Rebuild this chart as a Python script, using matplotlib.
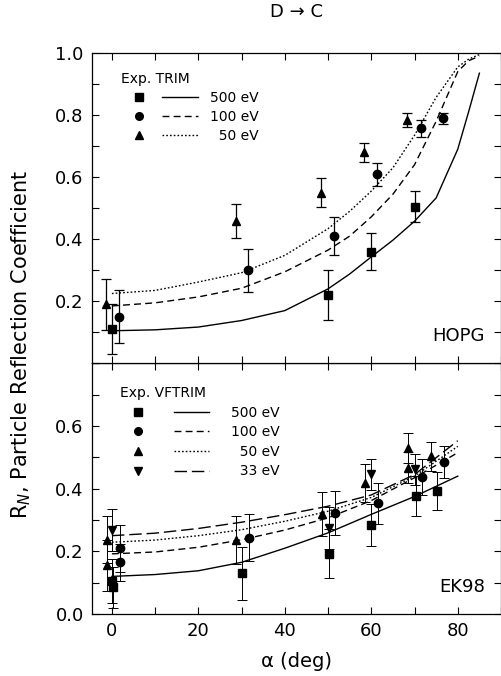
import matplotlib
matplotlib.use("Agg")
import matplotlib.pyplot as plt
from matplotlib.lines import Line2D
from matplotlib.legend_handler import HandlerTuple
from matplotlib.ticker import MultipleLocator, FormatStrFormatter

plt.rcParams['font.family'] = ['DejaVu Sans']

# ---------------- data: top panel (HOPG, TRIM) ----------------
hopg_sq_x = [0, 50, 60, 70]
hopg_sq_y = [0.11, 0.22, 0.36, 0.505]
hopg_sq_e = [0.08, 0.08, 0.06, 0.05]

hopg_ci_x = [1.7, 31.5, 51.4, 61.4, 71.4, 76.6]
hopg_ci_y = [0.15, 0.30, 0.41, 0.61, 0.757, 0.79]
hopg_ci_e = [0.085, 0.07, 0.06, 0.037, 0.027, 0.018]

hopg_tr_x = [-1.4, 28.6, 48.4, 58.3, 68.3]
hopg_tr_y = [0.19, 0.46, 0.55, 0.68, 0.785]
hopg_tr_e = [0.083, 0.055, 0.047, 0.03, 0.023]

trim_x = [0, 10, 20, 30, 40, 50, 55, 60, 65, 70, 75, 80, 82.5, 85]
trim_500 = [0.105, 0.108, 0.117, 0.138, 0.17, 0.24, 0.288, 0.343, 0.397, 0.458, 0.533, 0.69, 0.81, 0.935]
trim_100 = [0.185, 0.195, 0.214, 0.242, 0.295, 0.365, 0.41, 0.472, 0.545, 0.64, 0.78, 0.94, 0.975, 0.99]
trim_50 = [0.225, 0.235, 0.262, 0.292, 0.348, 0.434, 0.49, 0.555, 0.63, 0.735, 0.857, 0.955, 0.98, 0.995]

# ---------------- data: bottom panel (EK98, VFTRIM) ----------------
ek_sq_x = [0.0, 0.3, 30.1, 50.2, 60, 70.3, 75.3]
ek_sq_y = [0.105, 0.085, 0.13, 0.193, 0.285, 0.378, 0.392]
ek_sq_e = [0.07, 0.065, 0.085, 0.078, 0.067, 0.064, 0.061]

ek_ci_x = [1.8, 1.8, 31.7, 51.7, 61.6, 71.8, 76.8]
ek_ci_y = [0.21, 0.165, 0.243, 0.323, 0.353, 0.437, 0.485]
ek_ci_e = [0.075, 0.06, 0.075, 0.07, 0.066, 0.057, 0.051]

ek_tr_x = [-1.2, -1.2, 28.8, 48.6, 58.6, 68.5, 68.5, 73.9]
ek_tr_y = [0.237, 0.155, 0.237, 0.318, 0.419, 0.531, 0.467, 0.504]
ek_tr_e = [0.075, 0.08, 0.077, 0.07, 0.06, 0.048, 0.05, 0.046]

ek_itr_x = [0.1, 50.2, 60, 70]
ek_itr_y = [0.269, 0.275, 0.446, 0.462]
ek_itr_e = [0.067, 0.067, 0.05, 0.05]

vf_x = [0, 10, 20, 30, 40, 50, 60, 70, 80]
vf_500 = [0.12, 0.126, 0.138, 0.165, 0.21, 0.259, 0.318, 0.375, 0.44]
vf_100 = [0.192, 0.198, 0.213, 0.237, 0.268, 0.307, 0.362, 0.435, 0.515]
vf_50 = [0.229, 0.236, 0.25, 0.269, 0.296, 0.328, 0.372, 0.44, 0.535]
vf_33 = [0.25, 0.258, 0.273, 0.293, 0.317, 0.344, 0.38, 0.445, 0.553]

energies_top = ['500 eV', '100 eV', '  50 eV']
energies_bot = ['500 eV', '100 eV', '  50 eV', '  33 eV']

# ---------------- styles ----------------
LS_SOLID = '-'
LS_DASH = (0, (5, 3))
LS_DOT = (0, (1.2, 1.5))
LS_LONG = (0, (9, 3.5))
LW = 1.0
MS = 6

fig = plt.figure(figsize=(5.02, 6.76), dpi=100)
L, W = 0.1833, 0.8147
ax_b = fig.add_axes([L, 0.0917, W, 0.3708])
ax_t = fig.add_axes([L, 0.4625, W, 0.4591])

ebkw = dict(color='black', ecolor='black', elinewidth=0.9, capsize=3.3,
            capthick=0.9, linestyle='none', markersize=MS)

# top panel
ax_t.plot(trim_x, trim_500, color='black', lw=LW, ls=LS_SOLID)
ax_t.plot(trim_x, trim_100, color='black', lw=LW, ls=LS_DASH)
ax_t.plot(trim_x, trim_50, color='black', lw=LW, ls=LS_DOT)
ax_t.errorbar(hopg_sq_x, hopg_sq_y, yerr=hopg_sq_e, marker='s', **ebkw)
ax_t.errorbar(hopg_ci_x, hopg_ci_y, yerr=hopg_ci_e, marker='o', **ebkw)
ax_t.errorbar(hopg_tr_x, hopg_tr_y, yerr=hopg_tr_e, marker='^', **ebkw)

# bottom panel
ax_b.plot(vf_x, vf_500, color='black', lw=LW, ls=LS_SOLID)
ax_b.plot(vf_x, vf_100, color='black', lw=LW, ls=LS_DASH)
ax_b.plot(vf_x, vf_50, color='black', lw=LW, ls=LS_DOT)
ax_b.plot(vf_x, vf_33, color='black', lw=LW, ls=LS_LONG)
ebkw_b = dict(ebkw)
ebkw_b['elinewidth'] = 0.7
ebkw_b['capthick'] = 0.7
ax_b.errorbar(ek_sq_x, ek_sq_y, yerr=ek_sq_e, marker='s', **ebkw_b)
ax_b.errorbar(ek_ci_x, ek_ci_y, yerr=ek_ci_e, marker='o', **ebkw_b)
ax_b.errorbar(ek_tr_x, ek_tr_y, yerr=ek_tr_e, marker='^', **ebkw_b)
ax_b.errorbar(ek_itr_x, ek_itr_y, yerr=ek_itr_e, marker='v', **ebkw_b)

# axes formatting
for ax in (ax_t, ax_b):
    ax.set_xlim(-4.6, 90)
    ax.xaxis.set_major_locator(MultipleLocator(20))
    ax.xaxis.set_minor_locator(MultipleLocator(10))
    ax.yaxis.set_minor_locator(MultipleLocator(0.1))
    ax.yaxis.set_major_formatter(FormatStrFormatter('%.1f'))
    ax.tick_params(which='both', direction='in', top=True, right=True,
                   length=5, width=0.8, labelsize=13, pad=6)
    for s in ax.spines.values():
        s.set_linewidth(0.9)

ax_t.set_ylim(0, 1.0)
ax_t.set_yticks([0.2, 0.4, 0.6, 0.8, 1.0])
ax_t.tick_params(labelbottom=False)
ax_b.set_ylim(0, 0.8)
ax_b.set_yticks([0.0, 0.2, 0.4, 0.6])

# legends
mk = dict(color='black', linestyle='none', markersize=5.5)
h_sq = Line2D([], [], marker='s', **mk)
h_ci = Line2D([], [], marker='o', **mk)
h_tr = Line2D([], [], marker='^', **mk)
h_itr = Line2D([], [], marker='v', **mk)
l_solid = Line2D([], [], color='black', lw=LW, ls=LS_SOLID)
l_dash = Line2D([], [], color='black', lw=LW, ls=LS_DASH)
l_dot = Line2D([], [], color='black', lw=LW, ls=LS_DOT)
l_long = Line2D([], [], color='black', lw=LW, ls=LS_LONG)

leg_t = ax_t.legend([(h_sq, l_solid), (h_ci, l_dash), (h_tr, l_dot)], energies_top,
                    handler_map={tuple: HandlerTuple(ndivide=None, pad=0.36)},
                    title='Exp. TRIM', title_fontsize=10, fontsize=10,
                    alignment='left', frameon=False, loc='upper left',
                    bbox_to_anchor=(0.048, 0.967), borderpad=0.65, borderaxespad=0,
                    handlelength=5.54, handletextpad=0.86, labelspacing=0.36)

leg_b = ax_b.legend([(h_sq, l_solid), (h_ci, l_dash), (h_tr, l_dot), (h_itr, l_long)],
                    energies_bot,
                    handler_map={tuple: HandlerTuple(ndivide=None, pad=1.33)},
                    title='Exp. VFTRIM', title_fontsize=10, fontsize=10,
                    alignment='left', frameon=False, loc='upper left',
                    bbox_to_anchor=(0.049, 0.942), borderpad=0.6, borderaxespad=0,
                    handlelength=6.37, handletextpad=1.56, labelspacing=0.40)

ax_t.text(0.961, 0.087, 'HOPG', transform=ax_t.transAxes, ha='right', va='center', fontsize=13)
ax_b.text(0.961, 0.108, 'EK98', transform=ax_b.transAxes, ha='right', va='center', fontsize=13)

fig.text(0.59, 0.982, 'D → C', ha='center', va='center', fontsize=13)
fig.text(0.59, 0.021, 'α (deg)', ha='center', va='center', fontsize=14)
fig.text(0.042, 0.49, 'R$_N$, Particle Reflection Coefficient', rotation=90,
         ha='center', va='center', fontsize=15)

fig.savefig('out.png', dpi=100)
